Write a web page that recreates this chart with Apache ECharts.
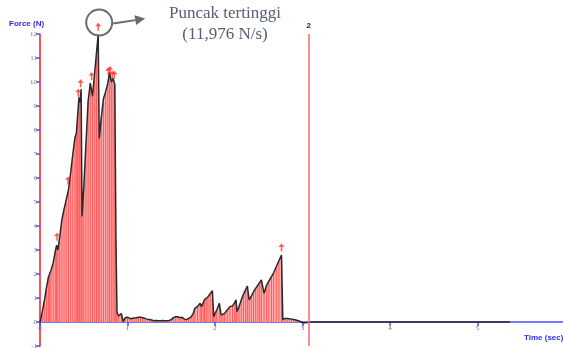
<!DOCTYPE html>
<html><head><meta charset="utf-8">
<script src="https://cdn.jsdelivr.net/npm/echarts@6/dist/echarts.min.js"></script>
<style>html,body{margin:0;padding:0;background:#fff}#c{width:563px;height:348px}</style>
</head><body><div id="c"></div>
<script>
// Sampled force curve (time in s, force in N)
const times = [0.000,0.010,0.025,0.050,0.075,0.095,0.110,0.125,0.150,0.175,0.190,0.205,0.225,0.250,0.275,0.300,0.325,0.350,0.375,0.400,0.415,0.430,0.445,0.455,0.470,0.480,0.500,0.525,0.550,0.575,0.600,0.625,0.645,0.665,0.677,0.700,0.725,0.750,0.775,0.795,0.815,0.835,0.855,0.868,0.880,0.900,0.930,0.950,0.975,1.000,1.025,1.050,1.075,1.100,1.125,1.150,1.175,1.200,1.225,1.250,1.275,1.300,1.325,1.350,1.375,1.400,1.425,1.450,1.475,1.500,1.525,1.550,1.575,1.600,1.625,1.650,1.675,1.700,1.725,1.750,1.770,1.800,1.830,1.845,1.865,1.880,1.900,1.920,1.945,1.970,1.985,2.000,2.020,2.050,2.070,2.090,2.110,2.140,2.170,2.200,2.225,2.240,2.252,2.275,2.300,2.325,2.350,2.370,2.390,2.415,2.440,2.465,2.490,2.510,2.530,2.560,2.590,2.615,2.645,2.670,2.700,2.730,2.760,2.775,2.800,2.825,2.850,2.875,2.900,2.925,2.950,2.975,3.000,3.030,3.060];
const forces = [0.00,0.15,0.40,0.90,1.45,1.85,1.92,2.15,2.45,2.95,3.20,3.00,3.55,4.25,4.70,5.10,5.50,6.20,7.00,7.70,7.85,8.60,9.35,9.15,9.70,4.40,5.60,7.40,9.20,9.95,9.40,10.40,11.20,11.976,7.65,8.50,9.30,9.60,9.95,10.40,10.00,10.15,9.90,3.40,0.40,0.25,0.35,0.02,0.18,0.20,0.15,0.15,0.17,0.18,0.20,0.20,0.18,0.15,0.12,0.10,0.08,0.05,0.06,0.05,0.05,0.06,0.05,0.05,0.06,0.10,0.18,0.22,0.22,0.18,0.20,0.12,0.10,0.15,0.20,0.35,0.57,0.65,0.78,0.64,0.80,0.92,0.98,1.05,1.18,1.30,0.22,0.35,0.50,0.78,0.29,0.33,0.36,0.50,0.64,0.67,0.80,0.92,0.43,0.65,0.92,1.15,1.35,1.50,0.92,1.08,1.26,1.40,1.54,1.65,1.75,1.19,1.54,1.70,1.89,2.05,2.30,2.55,2.79,0.10,0.15,0.15,0.14,0.12,0.10,0.08,0.05,0.02,-0.03,-0.03,-0.02];
// flat tail after the trial
const tailTimes = [3.10,3.50,4.00,4.50,5.00,5.37];
const tailForces = [0.00,0.00,0.00,0.00,0.00,0.00];
// peak marker arrows
const arrowTimes = [0.194,0.320,0.437,0.464,0.590,0.665,0.780,0.800,0.825,0.850,2.760];
const arrowForces = [3.55,5.90,9.55,9.95,10.25,12.30,10.45,10.50,10.30,10.30,3.10];
const peakTime = 0.665, peakForce = 11.976;
const markerTime = 3.07;
const yTicks = {min:-1, max:12, step:1};
const xTicks = {min:0, max:6, step:1};

const mainData = times.map((t,i)=>[t, forces[i]]);
const lineData = mainData.concat(tailTimes.map((t,i)=>[t, tailForces[i]]));
const arrowData = arrowTimes.map((t,i)=>[t, arrowForces[i]]);

const W = 563, H = 348, G = {left:40, right:-2, top:34, bottom:2};
const gridH = H - G.top - G.bottom;
const xOffset = -gridH * (0 - yTicks.min) / (yTicks.max - yTicks.min);

const chart = echarts.init(document.getElementById('c'), null, {renderer:'canvas'});
const serif = 'Liberation Serif';
chart.setOption({
  animation:false,
  backgroundColor:'#fff',
  grid:Object.assign({containLabel:false, outerBoundsMode:'none'}, G),
  xAxis:{type:'value', min:xTicks.min, max:xTicks.max, interval:xTicks.step,
    position:'bottom', offset:xOffset,
    axisLine:{onZero:false, lineStyle:{color:'#4a4aff', width:1.5}},
    axisTick:{show:true, length:4, lineStyle:{color:'#4a4aff', width:1.5}},
    axisLabel:{show:true, color:'#777', fontSize:7, fontFamily:serif, margin:3},
    splitLine:{show:false}},
  yAxis:{type:'value', min:yTicks.min, max:yTicks.max, interval:yTicks.step,
    axisLine:{show:true, onZero:false, lineStyle:{color:'#e8202a', width:1.5}},
    axisTick:{show:true, length:4, lineStyle:{color:'#4a4aff', width:1.5}},
    axisLabel:{color:'#777', fontSize:7, fontFamily:serif, margin:3},
    splitLine:{show:false}},
  series:[
    {type:'line', data:lineData, showSymbol:false, silent:true,
     lineStyle:{width:0}, areaStyle:{color:'#ffb0b0', opacity:1}, z:1,
     markLine:{symbol:['none','none'], silent:true,
       lineStyle:{color:'#ff6464', width:1.5, type:'solid'},
       label:{show:true, position:'end', formatter:'2', fontWeight:'bold', fontSize:8, color:'#222', distance:4},
       data:[{xAxis:markerTime}]}},
    {type:'bar', data:mainData, barWidth:1, itemStyle:{color:'#ff4848', opacity:0.85}, z:2, silent:true},
    {type:'line', data:lineData, showSymbol:false, silent:true,
     lineStyle:{color:'#2a2a2a', width:1.5}, z:3},
    {type:'scatter', data:arrowData, silent:true, z:4, clip:false,
     symbol:'path://M5 0 L10 6 L6.2 6 L6.2 14 L3.8 14 L3.8 6 L0 6 Z', symbolSize:[6,8],
     itemStyle:{color:'#ff2a2a'}}
  ]
});
// annotation circle around the peak, positioned from the data
const p = chart.convertToPixel({gridIndex:0}, [peakTime, peakForce]);
const cx = p[0]+1, cy = p[1]-12;
const sx = cx+14, sy = cy+1, tx = sx+32, ty = sy-5;
const dx = tx-sx, dy = ty-sy, L = Math.hypot(dx,dy), ux = dx/L, uy = dy/L;
const bx = tx-10*ux, by = ty-10*uy;
chart.setOption({graphic:[
  {id:'yname', type:'text', left:9, top:20, style:{text:'Force (N)', fill:'#2d2de0', font:'bold 8px "Liberation Sans"'}},
  {id:'xname', type:'text', left:524, top:334, style:{text:'Time (sec)', fill:'#2d2de0', font:'bold 8px "Liberation Sans"'}},
  {id:'t1', type:'text', x:225, y:14, style:{text:'Puncak tertinggi', fill:'#566072', font:'17px "Liberation Serif"', align:'center', verticalAlign:'middle'}},
  {id:'t2', type:'text', x:225, y:35, style:{text:'(11,976 N/s)', fill:'#566072', font:'17px "Liberation Serif"', align:'center', verticalAlign:'middle'}},
  {id:'circ', type:'circle', shape:{cx:cx, cy:cy, r:13}, style:{fill:null, stroke:'#6a6a6a', lineWidth:2}, z:10},
  {id:'aline', type:'line', shape:{x1:sx, y1:sy, x2:bx, y2:by}, style:{stroke:'#6a6a6a', lineWidth:2}, z:10},
  {id:'ahead', type:'polygon', shape:{points:[[tx,ty],[bx-5*uy,by+5*ux],[bx+5*uy,by-5*ux]]}, style:{fill:'#6a6a6a'}, z:10}
]});
</script></body></html>
